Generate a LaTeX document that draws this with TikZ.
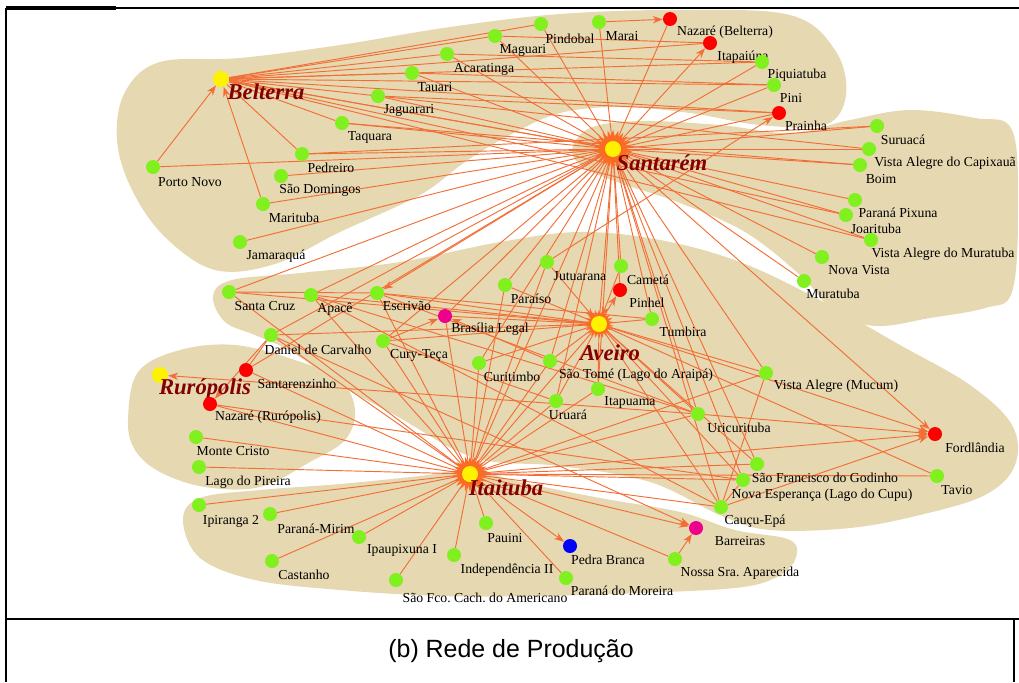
\documentclass[tikz,border=0pt]{standalone}
\usepackage{fontspec}
\setmainfont{Liberation Serif}
\newfontfamily\capfont{Liberation Sans}
\usetikzlibrary{arrows.meta,shapes.geometric}
\definecolor{tanbg}{RGB}{230,216,176}
\definecolor{edgec}{RGB}{242,110,55}
\definecolor{burstc}{RGB}{250,108,36}
\definecolor{gnc}{RGB}{128,240,30}
\definecolor{hubc}{RGB}{130,0,0}
\pgfdeclarelayer{bg}
\pgfdeclarelayer{edges}
\pgfsetlayers{bg,edges,main}
\newcommand\mknode[5]{\node[#1] (#2) at (#3) {}; \node[lab] (#2-l) at (#4) {#5};}
\frenchspacing
\begin{document}
\begin{tikzpicture}[x=0.75pt,y=-0.75pt,
  blob/.style={fill=tanbg,draw=none},
  e/.style={draw=edgec,line width=0.7pt},
  ea/.style={e,-{Stealth[length=7.5pt,width=5.5pt]}},
  gnode/.style={circle,fill=gnc,minimum size=10.5pt,inner sep=0pt},
  rnode/.style={circle,fill=red,minimum size=10.5pt,inner sep=0pt},
  mnode/.style={circle,fill=magenta,minimum size=10.5pt,inner sep=0pt},
  bnode/.style={circle,fill=blue,minimum size=10.5pt,inner sep=0pt},
  ynode/.style={circle,fill=yellow,minimum size=12pt,inner sep=0pt},
  lab/.style={font=\fontsize{10.3}{11}\selectfont,inner sep=0pt},
  hlab/.style={font=\fontsize{17}{18}\selectfont\bfseries\itshape,text=hubc,inner sep=0pt},
  burst/.style={star,star points=22,star point ratio=1.5,fill=burstc,inner sep=0pt},
  frame/.style={draw=black,line width=1.5pt}
]
\useasboundingbox (0,0) rectangle (1019,682);

% ---------- background blobs ----------
\begin{pgfonlayer}{bg}
\fill[blob] plot[smooth cycle,tension=0.6] coordinates {(117,140) (125,92) (160,62) (240,58) (340,45) (450,27) (560,14) (680,10) (790,15) (835,50) (846,95) (825,125) (760,125) (690,113) (620,107) (560,113) (510,135) (465,162) (420,195) (340,232) (275,264) (215,270) (165,237) (132,190)};
\fill[blob] plot[smooth cycle,tension=0.6] coordinates {(572,150) (590,128) (640,121) (720,125) (790,133) (850,120) (910,110) (975,118) (1012,130) (1018,210) (1012,292) (985,308) (930,318) (876,326) (835,312) (800,275) (745,232) (680,203) (620,183) (585,168)};
\fill[blob] plot[smooth cycle,tension=0.6] coordinates {(213,296) (232,280) (300,273) (400,262) (500,242) (580,232) (660,240) (740,262) (820,300) (900,345) (970,385) (1012,425) (1015,465) (985,495) (920,515) (850,528) (770,530) (722,516) (650,482) (560,466) (495,462) (455,450) (400,418) (340,385) (292,352) (255,335) (225,322)};
\fill[blob] plot[smooth cycle,tension=0.6] coordinates {(128,420) (138,372) (180,350) (235,345) (295,360) (340,380) (355,410) (345,440) (310,462) (260,487) (205,487) (160,472) (135,450)};
\fill[blob] plot[smooth cycle,tension=0.6] coordinates {(183,520) (200,498) (260,490) (340,484) (420,476) (470,470) (520,482) (600,498) (680,512) (735,530) (790,540) (795,560) (775,578) (735,588) (640,593) (540,596) (440,596) (340,590) (255,580) (200,558)};
\end{pgfonlayer}

% ---------- frame ----------
\draw[frame] (6,8) -- (1019,8);
\draw[line width=2.5pt] (6,8) -- (116,8);
\draw[frame] (6,8) -- (6,682);
\draw[frame] (6,619) -- (1019,619);
\draw[frame] (1014,619) -- (1014,682);

% ---------- hubs ----------
\node[burst,minimum size=29pt] (stm-b) at (613,149) {};
\node[burst,minimum size=27pt] (ita-b) at (470,474) {};
\node[burst,minimum size=22pt] (ave-b) at (599,324) {};
\node[ynode] (bel) at (221,79) {};
\node[ynode] (stm) at (613,149) {};
\node[ynode] (ave) at (599,324) {};
\node[ynode] (ita) at (470,474) {};
\node[ynode] (rur) at (160,375) {};
\node[hlab] (bel-l) at (266,92) {Belterra};
\node[hlab] (stm-l) at (662,163) {Santarém};
\node[hlab] (ave-l) at (610,353) {Aveiro};
\node[hlab] (ita-l) at (506,488) {Itaituba};
\node[hlab] (rur-l) at (205,389) {Rurópolis};

% ---------- top group ----------
\mknode{gnode}{pnovo}{153,167}{190,182}{Porto Novo}
\mknode{gnode}{pedr}{302,154}{331,168}{Pedreiro}
\mknode{gnode}{sdom}{281,176}{320,190}{São Domingos}
\mknode{gnode}{mari}{263,204}{294,218}{Marituba}
\mknode{gnode}{jama}{240,242}{276,256}{Jamaraquá}
\mknode{gnode}{taqu}{342,123}{370,137}{Taquara}
\mknode{gnode}{jagu}{378,96}{409,110}{Jaguarari}
\mknode{gnode}{taua}{412,73}{435,87}{Tauari}
\mknode{gnode}{acar}{447,54}{484,69}{Acaratinga}
\mknode{gnode}{magu}{495,36}{523,50}{Maguari}
\mknode{gnode}{pind}{541,24}{570,39}{Pindobal}
\mknode{gnode}{mara}{599,22}{622,36}{Marai}
\mknode{rnode}{nazb}{670,19}{725,32}{Nazaré (Belterra)}
\mknode{rnode}{itap}{710,43}{743,57}{Itapaiúna}
\mknode{gnode}{piqu}{762,62}{797,75}{Piquiatuba}
\mknode{gnode}{pini}{774,85}{791,98}{Pini}
\mknode{rnode}{prai}{779,113}{806,126}{Prainha}
% ---------- right group ----------
\mknode{gnode}{suru}{877,126}{903,140}{Suruacá}
\mknode{gnode}{vacap}{869,149}{945,163}{Vista Alegre do Capixauã}
\mknode{gnode}{boim}{860,165}{881,179}{Boim}
\mknode{gnode}{ppix}{855,200}{898,213}{Paraná Pixuna}
\mknode{gnode}{joar}{846,215}{876,229}{Joarituba}
\mknode{gnode}{vamur}{871,240}{943,254}{Vista Alegre do Muratuba}
\mknode{gnode}{nvis}{822,257}{859,270}{Nova Vista}
\mknode{gnode}{mura}{804,281}{833,294}{Muratuba}
% ---------- middle group ----------
\mknode{gnode}{scruz}{229,292}{265,306}{Santa Cruz}
\mknode{gnode}{apac}{311,295}{335,309}{Apacê}
\mknode{gnode}{escr}{377,293}{407,306}{Escrivão}
\mknode{mnode}{bras}{445,316}{490,329}{Brasília Legal}
\mknode{gnode}{dcar}{271,335}{318,350}{Daniel de Carvalho}
\mknode{gnode}{cury}{383,341}{419,355}{Cury-Teça}
\mknode{gnode}{para}{505,285}{531,299}{Paraíso}
\mknode{gnode}{jutu}{547,262}{580,276}{Jutuarana}
\mknode{gnode}{came}{621,266}{648,280}{Cametá}
\mknode{rnode}{pinh}{620,290}{647,303}{Pinhel}
\mknode{gnode}{tumb}{652,319}{683,332}{Tumbira}
\mknode{gnode}{curi}{479,363}{512,377}{Curitimbo}
\mknode{gnode}{stome}{550,361}{636,375}{São Tomé (Lago do Araipá)}
\mknode{gnode}{itapu}{598,389}{630,402}{Itapuama}
\mknode{gnode}{urua}{556,401}{568,415}{Uruará}
\mknode{gnode}{uric}{698,414}{739,428}{Uricurituba}
\mknode{gnode}{vamuc}{766,373}{836,386}{Vista Alegre (Mucum)}
\mknode{rnode}{ford}{935,434}{975,448}{Fordlândia}
\mknode{gnode}{sfran}{757,464}{825,478}{São Francisco do Godinho}
\mknode{gnode}{nesp}{743,480}{822,495}{Nova Esperança (Lago do Cupu)}
\mknode{gnode}{tavi}{937,476}{957,490}{Tavio}
\mknode{gnode}{cauc}{721,507}{755,521}{Cauçu-Epá}
\mknode{mnode}{barr}{696,528}{740,541}{Barreiras}
% ---------- Ruropolis group ----------
\mknode{rnode}{stzi}{246,370}{297,384}{Santarenzinho}
\mknode{rnode}{nazr}{210,404}{268,417}{Nazaré (Rurópolis)}
\mknode{gnode}{mcri}{196,437}{233,451}{Monte Cristo}
\mknode{gnode}{lpir}{199,467}{248,482}{Lago do Pireira}
% ---------- bottom group ----------
\mknode{gnode}{ipir}{199,505}{231,521}{Ipiranga 2}
\mknode{gnode}{pmir}{270,514}{316,529}{Paraná-Mirim}
\mknode{gnode}{ipau}{359,537}{402,550}{Ipaupixuna I}
\mknode{gnode}{cast}{272,561}{304,575}{Castanho}
\mknode{gnode}{sfco}{396,580}{485,598}{São Fco. Cach. do Americano}
\mknode{gnode}{inde}{454,555}{507,570}{Independência II}
\mknode{gnode}{paui}{486,523}{505,538}{Pauini}
\mknode{bnode}{pbra}{570,546}{608,560}{Pedra Branca}
\mknode{gnode}{pmor}{566,578}{622,591}{Paraná do Moreira}
\mknode{gnode}{nsra}{675,559}{740,573}{Nossa Sra. Aparecida}

% ---------- connectors ----------
\begin{pgfonlayer}{edges}
\foreach \a/\b in {pedr/bel, taqu/bel, jagu/bel, taua/bel, acar/bel, magu/bel, pind/bel,
  bel/itap, bel/piqu, bel/pini, bel/prai, bel/stm,
  pnovo/stm, pedr/stm, sdom/stm, mari/stm, jama/stm, taqu/stm, jagu/stm, taua/stm, acar/stm, magu/stm, pind/stm, mara/stm, nazb/stm, piqu/stm, pini/stm, prai/stm, jagu/prai, taua/pini, acar/piqu, magu/itap,
  suru/stm, vacap/stm, boim/stm, ppix/stm, joar/stm, vamur/stm, nvis/stm, mura/stm, jagu/vacap, pedr/suru, taqu/boim, bel/vamur, bel/joar,
  stm/scruz, stm/apac, stm/dcar, stm/stzi, stm/bras, stm/cury, stm/para, stm/came, stm/pinh, stm/curi, stm/stome, stm/itapu, stm/uric, stm/tumb, stm/nesp, stm/cauc, stm/vamuc, stm/ita, stm/urua, stm/sfran, stm/ave,
  ave/para, ave/tumb, ave/bras, ave/escr, ave/scruz, ave/apac, ave/curi, ave/stome, ave/itapu, ave/urua, ave/uric, ave/vamuc, ave/tavi, ave/cauc, ave/nesp, ave/sfran, ave/dcar, ave/cury, ave/ita,
  ita/ipir, ita/pmir, ita/ipau, ita/cast, ita/sfco, ita/inde, ita/paui, ita/pmor, ita/nsra, ita/mcri, ita/lpir, ita/nazr, ita/stzi, ita/scruz, ita/apac, ita/dcar, ita/cury, ita/bras, ita/curi, ita/stome, ita/itapu, ita/urua, ita/uric, ita/vamuc, ita/para, ita/sfran, ita/nesp, ita/cauc, ita/tavi, ita/escr, ita/jutu,
  apac/uric, scruz/escr, escr/tumb, cury/urua, nazr/nesp, stzi/dcar, cauc/nesp, vamuc/cauc, apac/cauc, escr/uric}
  \draw[e] (\a) -- (\b);
\foreach \a/\b in {pnovo/bel, mari/bel, stm/bel, mara/nazb, stm/itap, jutu/prai, jutu/ave, came/ave, ave/pinh, cury/bras, stome/bras, stm/escr, dcar/nazr, uric/rur, uric/ford, ave/ford, stm/ford, cauc/ford, ita/ford, ita/barr, nsra/barr, ita/pbra, dcar/barr}
  \draw[ea] (\a) -- (\b);
\end{pgfonlayer}

% ---------- caption ----------
\node[font=\capfont\fontsize{18.7}{20}\selectfont,inner sep=0pt] (cap) at (511,651) {(b) Rede de Produção};
\end{tikzpicture}
\end{document}
